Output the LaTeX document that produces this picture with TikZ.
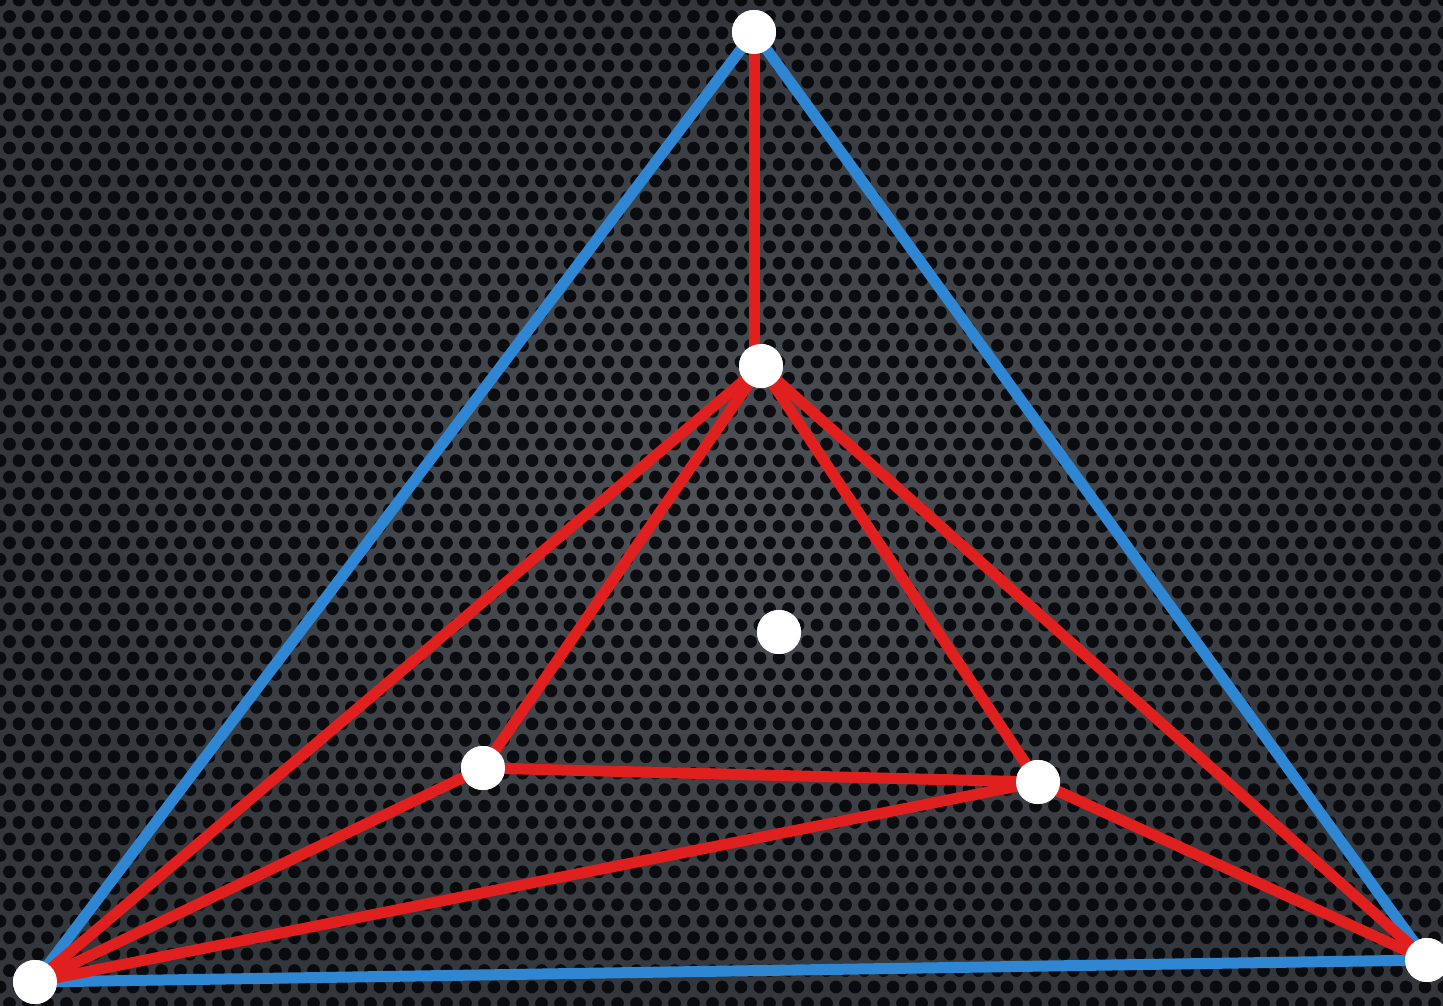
\documentclass[tikz,border=0pt]{standalone}
\definecolor{bgin}{HTML}{4E5156}
\definecolor{bgout}{HTML}{33363B}
\definecolor{hole}{HTML}{07080B}
\definecolor{eblue}{HTML}{2F86D3}
\definecolor{ered}{HTML}{E0201E}
\begin{document}
\begin{tikzpicture}[x=1pt,y=-1pt,
  vtx/.style={circle,fill=white,draw=none,inner sep=0pt,minimum size=44pt},
  blueedge/.style={draw=eblue,line width=11pt},
  rededge/.style={draw=ered,line width=11pt}]
\useasboundingbox (0,0) rectangle (1443,1005);
% background
\shade[inner color=bgin,outer color=bgout] (0,0) rectangle (1443,1005);
\foreach \j in {0,...,62} {
  \pgfmathsetmacro{\off}{mod(\j,2)*9.5}
  \fill[hole,opacity=0.92] \foreach \i in {0,...,77} { ({\i*19+\off},{\j*16.45}) circle (6.4pt) };
}
% vertices
\node[vtx] (A) at (754,32) {};
\node[vtx] (B) at (761,366) {};
\node[vtx] (C) at (779,632) {};
\node[vtx] (D) at (483,768) {};
\node[vtx] (E) at (1038,782) {};
\node[vtx] (F) at (35,982) {};
\node[vtx] (G) at (1427,960) {};
% blue edges
\path[blueedge] (A.center) -- (F.center);
\path[blueedge] (A.center) -- (G.center);
\path[blueedge] (F.center) -- (G.center);
% red edges
\path[rededge] (A.center) -- (A.center |- B.center);
\path[rededge] (B.center) -- (F.center);
\path[rededge] (B.center) -- (D.center);
\path[rededge] (B.center) -- (E.center);
\path[rededge] (B.center) -- (G.center);
\path[rededge] (D.center) -- (E.center);
\path[rededge] (D.center) -- (F.center);
\path[rededge] (E.center) -- (F.center);
\path[rededge] (E.center) -- (G.center);
% redraw vertices on top
\foreach \n in {A,B,C,D,E,F,G} { \fill[white] (\n.center) circle (22pt); }
\end{tikzpicture}
\end{document}
